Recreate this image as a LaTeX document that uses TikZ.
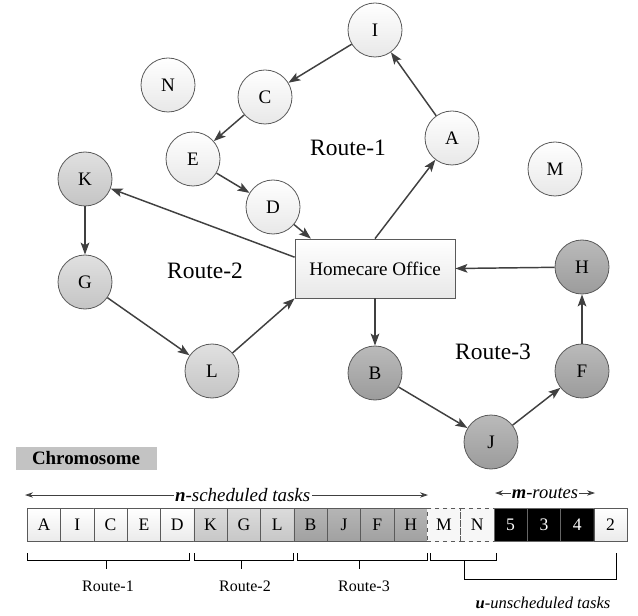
\documentclass[tikz,border=0pt]{standalone}
\usepackage{fontspec}
\setmainfont{Liberation Serif}
\usetikzlibrary{arrows.meta}

\definecolor{linkgray}{HTML}{404040}
\definecolor{rimgray}{HTML}{5A5A5A}
\definecolor{chromgray}{HTML}{C3C3C3}

\begin{document}
\begin{tikzpicture}[x=0.75pt,y=0.75pt,yscale=-1,xscale=1,
  task/.style={circle,draw=rimgray,line width=0.6pt,minimum size=40.5pt,inner sep=0pt,font=\fontsize{14.3}{16}\selectfont},
  rone/.style={task,top color=white,bottom color=black!9},
  rtwo/.style={task,top color=black!12,bottom color=black!23},
  rthree/.style={task,top color=black!27,bottom color=black!39},
  link/.style={draw=linkgray,line width=1.1pt,-{Stealth[length=9pt,width=6.5pt,inset=2pt]}},
  routelabel/.style={font=\fontsize{17.6}{20}\selectfont},
  cell/.style={draw=rimgray,line width=0.5pt,minimum width=25pt,minimum height=25pt,inner sep=0pt,font=\fontsize{13.2}{15}\selectfont},
  cone/.style={cell,top color=white,bottom color=black!8},
  ctwo/.style={cell,top color=black!14,bottom color=black!22},
  cthree/.style={cell,top color=black!29,bottom color=black!37},
  cfree/.style={cell,dashed,fill=black!3},
  cfleet/.style={cell,fill=black,text=white,draw=black!60},
  brace/.style={draw=black,line width=0.6pt},
  span/.style={draw=linkgray,line width=0.6pt,{Stealth[length=6pt,width=4pt]}-{Stealth[length=6pt,width=4pt]}}
]
%set diagram left start at 0, and has height of 616
\path (0,0) rectangle (638,616);

% Office
\node [rectangle,draw=rimgray,line width=0.6pt,top color=white,bottom color=black!9,minimum width=120pt,minimum height=44.25pt,font=\fontsize{14.3}{16}\selectfont] (office) at (375,268.5) {Homecare Office};

% Tasks
\node [rone] (I) at (375,30) {I};
\node [rone] (N) at (168,85) {N};
\node [rone] (C) at (265,97) {C};
\node [rone] (A) at (452,138) {A};
\node [rone] (E) at (193,159) {E};
\node [rone] (M) at (555,169) {M};
\node [rone] (D) at (273,207) {D};
\node [rtwo] (K) at (85,179) {K};
\node [rtwo] (G) at (85,282) {G};
\node [rtwo] (L) at (212,371) {L};
\node [rthree] (H) at (582,267) {H};
\node [rthree] (B) at (375,373) {B};
\node [rthree] (F) at (582,371) {F};
\node [rthree] (J) at (491,442) {J};

% Route labels
\node [routelabel] (lone) at (348,148) {Route-1};
\node [routelabel] (ltwo) at (205,271) {Route-2};
\node [routelabel] (lthree) at (493,352) {Route-3};

% Route-1
\draw [link] (office.north) -- (A);
\draw [link] (A) -- (I);
\draw [link] (I) -- (C);
\draw [link] (C) -- (E);
\draw [link] (E) -- (D);
\draw [link] (D) -- (office.155);
% Route-2
\draw [link] (office.172) -- (K);
\draw [link] (K) -- (G);
\draw [link] (G) -- (L);
\draw [link] (L) -- (office.south west);
% Route-3
\draw [link] (office.south) -- (B);
\draw [link] (B) -- (J);
\draw [link] (J) -- (F);
\draw [link] (F) -- (H);
\draw [link] (H) -- (office.east);

% Chromosome
\node [fill=chromgray,minimum width=105.75pt,minimum height=17.25pt,inner sep=0pt,font=\bfseries\fontsize{14.2}{16}\selectfont] (chrom) at (86,458.5) {Chromosome};

\node [cone] (cA) at (44,525) {A};
\node [cone] (cI) at (77.3,525) {I};
\node [cone] (cC) at (110.6,525) {C};
\node [cone] (cE) at (144,525) {E};
\node [cone] (cD) at (177.3,525) {D};
\node [ctwo] (cK) at (210.6,525) {K};
\node [ctwo] (cG) at (244,525) {G};
\node [ctwo] (cL) at (277.3,525) {L};
\node [cthree] (cB) at (310.6,525) {B};
\node [cthree] (cJ) at (344,525) {J};
\node [cthree] (cF) at (377.3,525) {F};
\node [cthree] (cH) at (410.6,525) {H};
\node [cfree] (cM) at (444,525) {M};
\node [cfree] (cN) at (477.3,525) {N};
\node [cfleet] (c5) at (510.6,525) {5};
\node [cfleet] (c3) at (544,525) {3};
\node [cfleet] (c4) at (577.3,525) {4};
\node [cone] (c2) at (610.6,525) {2};

% Spans above the chromosome
\coordinate (nleft) at (25,495);
\coordinate (nright) at (428,495);
\draw [span] (nleft) -- (nright) node [pos=0.54,fill=white,inner sep=1pt,font=\itshape\fontsize{14.2}{16}\selectfont] (ntext) {\textbf{\textit{n}}-scheduled tasks};
\coordinate (mleft) at (495,493);
\coordinate (mright) at (595,493);
\draw [span] (mleft) -- (mright) node [midway,fill=white,inner sep=1pt,font=\itshape\fontsize{13.9}{16}\selectfont] (mtext) {\textbf{\textit{m}}-routes};

% Brackets below the chromosome
\draw [brace] (27,553) -- (27,560) -- (189,560) -- (189,553);
\draw [brace] (106,560) -- (106,569);
\node [font=\fontsize{12}{14}\selectfont] (bone) at (108,586) {Route-1};
\draw [brace] (194,553) -- (194,560) -- (293,560) -- (293,553);
\draw [brace] (241,560) -- (241,569);
\node [font=\fontsize{12}{14}\selectfont] (btwo) at (245,586) {Route-2};
\draw [brace] (297,553) -- (297,560) -- (427,560) -- (427,553);
\draw [brace] (359,560) -- (359,569);
\node [font=\fontsize{12}{14}\selectfont] (bthree) at (364,586) {Route-3};
\draw [brace] (430,553) -- (430,560) -- (496,560) -- (496,553);
\draw [brace] (464,560) -- (464,579) -- (616,579) -- (616,553);
\node [font=\itshape\fontsize{12.4}{14}\selectfont] (utext) at (543,603) {\textbf{\textit{u}}-unscheduled tasks};

\end{tikzpicture}
\end{document}
